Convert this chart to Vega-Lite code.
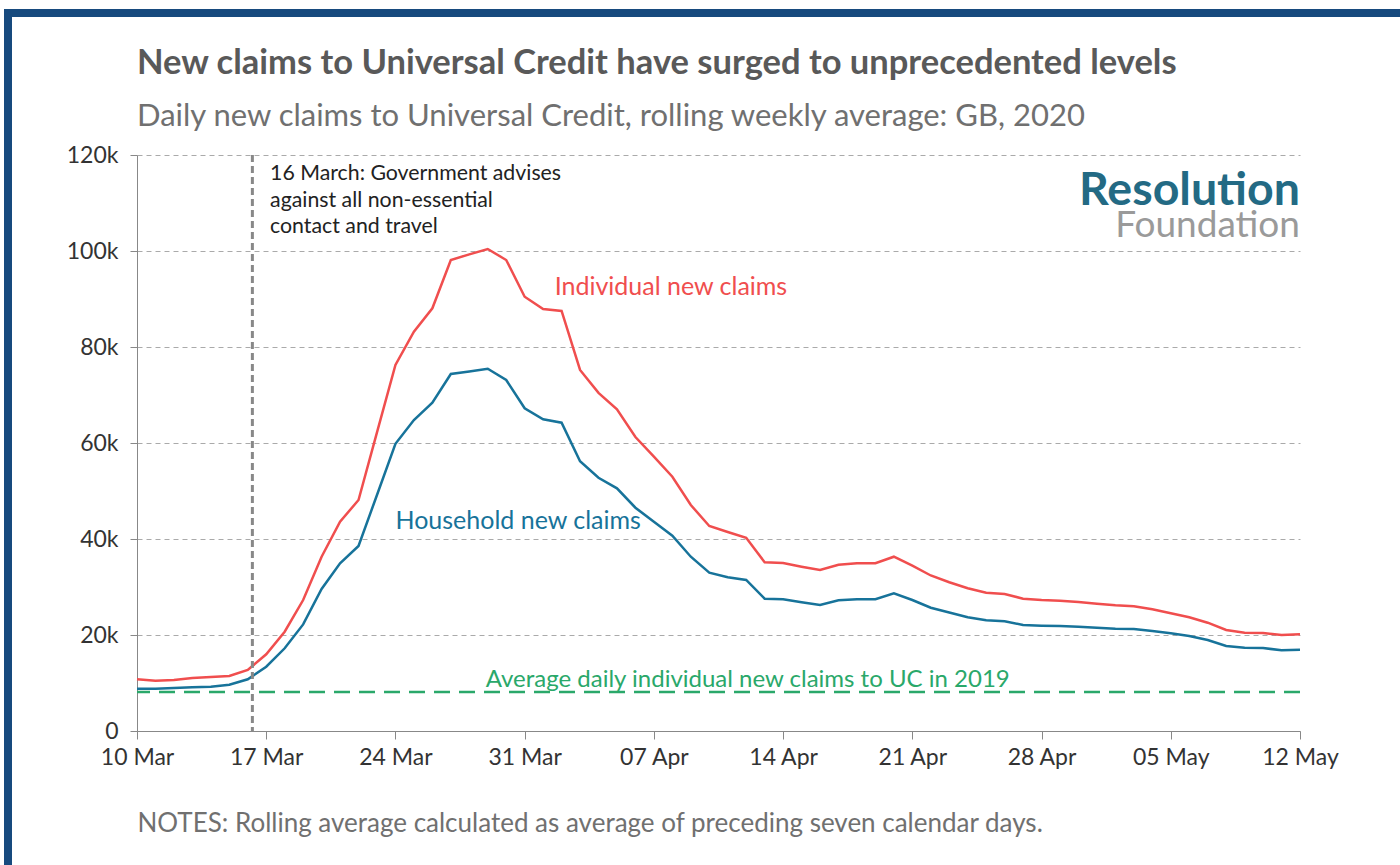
{
  "$schema": "https://vega.github.io/schema/vega-lite/v6.json",
  "background": "white",
  "padding": {"left": 4, "top": 9, "right": 0, "bottom": 0},
  "config": {"view": {"stroke": null}, "font": "Lato"},
  "spacing": 0,
  "columns": 2,
  "align": "none",
  "concat": [
    {"width": 8, "height": 8, "data": {"values": []}, "mark": "rect", "view": {"fill": "#174a7e", "stroke": null}},
    {"width": 1388, "height": 8, "data": {"values": []}, "mark": "rect", "view": {"fill": "#174a7e", "stroke": null}},
    {"width": 8, "height": 848, "data": {"values": []}, "mark": "rect", "view": {"fill": "#174a7e", "stroke": null}},
    {
      "width": 1163,
      "height": 576,
      "view": {"stroke": null},
      "title": {
        "text": ["", "New claims to Universal Credit have surged to unprecedented levels"],
        "subtitle": "Daily new claims to Universal Credit, rolling weekly average: GB, 2020",
        "anchor": "start",
        "frame": "group",
        "font": "Lato",
        "fontSize": 34.5,
        "lineHeight": 28,
        "fontWeight": "bold",
        "color": "#595959",
        "subtitleFont": "Lato",
        "subtitleFontSize": 31,
        "subtitleColor": "#707070",
        "subtitlePadding": 21,
        "offset": 11
      },
      "layer": [
        {
          "data": {"values": [
            {"date": "2020-03-10", "Individual": 10770, "Household": 8810},
            {"date": "2020-03-11", "Individual": 10480, "Household": 8810},
            {"date": "2020-03-12", "Individual": 10620, "Household": 8960},
            {"date": "2020-03-13", "Individual": 11040, "Household": 9100},
            {"date": "2020-03-14", "Individual": 11250, "Household": 9230},
            {"date": "2020-03-15", "Individual": 11460, "Household": 9650},
            {"date": "2020-03-16", "Individual": 12710, "Household": 10770},
            {"date": "2020-03-17", "Individual": 15980, "Household": 13400},
            {"date": "2020-03-18", "Individual": 20690, "Household": 17230},
            {"date": "2020-03-19", "Individual": 27290, "Household": 22200},
            {"date": "2020-03-20", "Individual": 36310, "Household": 29580},
            {"date": "2020-03-21", "Individual": 43600, "Household": 34930},
            {"date": "2020-03-22", "Individual": 48130, "Household": 38540},
            {"date": "2020-03-23", "Individual": 62200, "Household": 49170},
            {"date": "2020-03-24", "Individual": 76250, "Household": 59830},
            {"date": "2020-03-25", "Individual": 83190, "Household": 64790},
            {"date": "2020-03-26", "Individual": 88060, "Household": 68400},
            {"date": "2020-03-27", "Individual": 98120, "Household": 74375},
            {"date": "2020-03-28", "Individual": 99300, "Household": 74900},
            {"date": "2020-03-29", "Individual": 100420, "Household": 75480},
            {"date": "2020-03-30", "Individual": 98120, "Household": 73125},
            {"date": "2020-03-31", "Individual": 90480, "Household": 67230},
            {"date": "2020-04-01", "Individual": 87920, "Household": 64940},
            {"date": "2020-04-02", "Individual": 87500, "Household": 64230},
            {"date": "2020-04-03", "Individual": 75210, "Household": 56200},
            {"date": "2020-04-04", "Individual": 70450, "Household": 52750},
            {"date": "2020-04-05", "Individual": 67020, "Household": 50560},
            {"date": "2020-04-06", "Individual": 61250, "Household": 46520},
            {"date": "2020-04-07", "Individual": 57150, "Household": 43600},
            {"date": "2020-04-08", "Individual": 52980, "Household": 40690},
            {"date": "2020-04-09", "Individual": 47080, "Household": 36310},
            {"date": "2020-04-10", "Individual": 42710, "Household": 32980},
            {"date": "2020-04-11", "Individual": 41460, "Household": 32020},
            {"date": "2020-04-12", "Individual": 40270, "Household": 31460},
            {"date": "2020-04-13", "Individual": 35150, "Household": 27560},
            {"date": "2020-04-14", "Individual": 35000, "Household": 27440},
            {"date": "2020-04-15", "Individual": 34230, "Household": 26810},
            {"date": "2020-04-16", "Individual": 33540, "Household": 26250},
            {"date": "2020-04-17", "Individual": 34650, "Household": 27230},
            {"date": "2020-04-18", "Individual": 34940, "Household": 27440},
            {"date": "2020-04-19", "Individual": 34940, "Household": 27440},
            {"date": "2020-04-20", "Individual": 36310, "Household": 28690},
            {"date": "2020-04-21", "Individual": 34440, "Household": 27290},
            {"date": "2020-04-22", "Individual": 32400, "Household": 25690},
            {"date": "2020-04-23", "Individual": 31000, "Household": 24700},
            {"date": "2020-04-24", "Individual": 29730, "Household": 23690},
            {"date": "2020-04-25", "Individual": 28810, "Household": 23060},
            {"date": "2020-04-26", "Individual": 28540, "Household": 22850},
            {"date": "2020-04-27", "Individual": 27560, "Household": 22080},
            {"date": "2020-04-28", "Individual": 27290, "Household": 21940},
            {"date": "2020-04-29", "Individual": 27150, "Household": 21875},
            {"date": "2020-04-30", "Individual": 26870, "Household": 21730},
            {"date": "2020-05-01", "Individual": 26520, "Household": 21520},
            {"date": "2020-05-02", "Individual": 26190, "Household": 21310},
            {"date": "2020-05-03", "Individual": 25980, "Household": 21250},
            {"date": "2020-05-04", "Individual": 25350, "Household": 20830},
            {"date": "2020-05-05", "Individual": 24520, "Household": 20350},
            {"date": "2020-05-06", "Individual": 23690, "Household": 19790},
            {"date": "2020-05-07", "Individual": 22560, "Household": 18960},
            {"date": "2020-05-08", "Individual": 21040, "Household": 17710},
            {"date": "2020-05-09", "Individual": 20480, "Household": 17350},
            {"date": "2020-05-10", "Individual": 20420, "Household": 17290},
            {"date": "2020-05-11", "Individual": 20000, "Household": 16810},
            {"date": "2020-05-12", "Individual": 20140, "Household": 16940}
          ]},
          "transform": [{"fold": ["Individual", "Household"], "as": ["series", "value"]}],
          "mark": {"type": "line", "strokeWidth": 2.5, "clip": false},
          "encoding": {
            "x": {
              "field": "date", "type": "temporal",
              "scale": {"type": "utc", "domain": [{"year": 2020, "month": 3, "date": 10, "utc": true}, {"year": 2020, "month": 5, "date": 12, "utc": true}]},
              "axis": {
                "values": [
                  {"year": 2020, "month": 3, "date": 10, "utc": true},
                  {"year": 2020, "month": 3, "date": 17, "utc": true},
                  {"year": 2020, "month": 3, "date": 24, "utc": true},
                  {"year": 2020, "month": 3, "date": 31, "utc": true},
                  {"year": 2020, "month": 4, "date": 7, "utc": true},
                  {"year": 2020, "month": 4, "date": 14, "utc": true},
                  {"year": 2020, "month": 4, "date": 21, "utc": true},
                  {"year": 2020, "month": 4, "date": 28, "utc": true},
                  {"year": 2020, "month": 5, "date": 5, "utc": true},
                  {"year": 2020, "month": 5, "date": 12, "utc": true}
                ],
                "format": "%d %b",
                "grid": false,
                "labelFont": "Lato",
                "labelFontSize": 23,
                "labelColor": "#333333",
                "labelFlush": false,
                "labelPadding": 7,
                "tickSize": 8,
                "tickColor": "#888888",
                "domainColor": "#888888",
                "title": "NOTES: Rolling average calculated as average of preceding seven calendar days.",
                "titleAnchor": "start",
                "titleAlign": "left",
                "titleFont": "Lato",
                "titleFontSize": 26,
                "titleFontWeight": "normal",
                "titleColor": "#707070",
                "titlePadding": 41
              }
            },
            "y": {
              "field": "value", "type": "quantitative",
              "scale": {"domain": [0, 120000]},
              "axis": {
                "values": [0, 20000, 40000, 60000, 80000, 100000, 120000],
                "labelExpr": "datum.value == 0 ? '0' : (datum.value / 1000) + 'k'",
                "title": null,
                "grid": true,
                "gridDash": [5, 4],
                "gridColor": "#aaaaaa",
                "labelFont": "Lato",
                "labelFontSize": 23,
                "labelColor": "#333333",
                "labelPadding": 12,
                "tickSize": 7,
                "tickColor": "#888888",
                "domainColor": "#888888",
                "minExtent": 125,
                "maxExtent": 125
              }
            },
            "color": {
              "field": "series", "type": "nominal",
              "scale": {"domain": ["Individual", "Household"], "range": ["#f04e4e", "#17739a"]},
              "legend": null
            }
          }
        },
        {
          "data": {"values": [{"level": 8100}]},
          "mark": {"type": "rule", "color": "#2aa86a", "strokeWidth": 2.5, "strokeDash": [16, 9]},
          "encoding": {"y": {"field": "level", "type": "quantitative"}}
        },
        {
          "data": {"values": [{"event": "2020-03-16T06:00:00Z"}]},
          "mark": {"type": "rule", "color": "#888888", "strokeWidth": 3, "strokeDash": [7, 4]},
          "encoding": {"x": {"field": "event", "type": "temporal"}}
        },
        {
          "data": {"values": [
            {"label": "16 March: Government advises", "date": "2020-03-17T05:00:00Z", "value": 116000},
            {"label": "against all non-essential", "date": "2020-03-17T05:00:00Z", "value": 110400},
            {"label": "contact and travel", "date": "2020-03-17T05:00:00Z", "value": 105000}
          ]},
          "mark": {"type": "text", "align": "left", "baseline": "middle", "font": "Lato", "fontSize": 21.3, "color": "#222222"},
          "encoding": {
            "x": {"field": "date", "type": "temporal"},
            "y": {"field": "value", "type": "quantitative"},
            "text": {"field": "label"}
          }
        },
        {
          "data": {"values": [{"label": "Individual new claims", "date": "2020-04-01T15:00:00Z", "value": 92500}]},
          "mark": {"type": "text", "align": "left", "baseline": "middle", "font": "Lato", "fontSize": 25, "color": "#f04e4e"},
          "encoding": {
            "x": {"field": "date", "type": "temporal"},
            "y": {"field": "value", "type": "quantitative"},
            "text": {"field": "label"}
          }
        },
        {
          "data": {"values": [{"label": "Household new claims", "date": "2020-03-24T00:00:00Z", "value": 43750}]},
          "mark": {"type": "text", "align": "left", "baseline": "middle", "font": "Lato", "fontSize": 25, "color": "#17739a"},
          "encoding": {
            "x": {"field": "date", "type": "temporal"},
            "y": {"field": "value", "type": "quantitative"},
            "text": {"field": "label"}
          }
        },
        {
          "data": {"values": [{"label": "Average daily individual new claims to UC in 2019", "date": "2020-04-12T02:00:00Z", "value": 10600}]},
          "mark": {"type": "text", "align": "center", "baseline": "middle", "font": "Lato", "fontSize": 24, "color": "#2aa86a"},
          "encoding": {
            "x": {"field": "date", "type": "temporal"},
            "y": {"field": "value", "type": "quantitative"},
            "text": {"field": "label"}
          }
        },
        {
          "data": {"values": [{"label": "Resolution", "date": "2020-05-12T00:00:00Z", "value": 109600}]},
          "mark": {"type": "text", "align": "right", "baseline": "alphabetic", "font": "Lato", "fontSize": 46.5, "fontWeight": "bold", "color": "#236a84"},
          "encoding": {
            "x": {"field": "date", "type": "temporal"},
            "y": {"field": "value", "type": "quantitative"},
            "text": {"field": "label"}
          }
        },
        {
          "data": {"values": [{"label": "Foundation", "date": "2020-05-12T00:00:00Z", "value": 102900}]},
          "mark": {"type": "text", "align": "right", "baseline": "alphabetic", "font": "Lato", "fontSize": 37, "color": "#9a9a9a"},
          "encoding": {
            "x": {"field": "date", "type": "temporal"},
            "y": {"field": "value", "type": "quantitative"},
            "text": {"field": "label"}
          }
        }
      ]
    }
  ]
}
